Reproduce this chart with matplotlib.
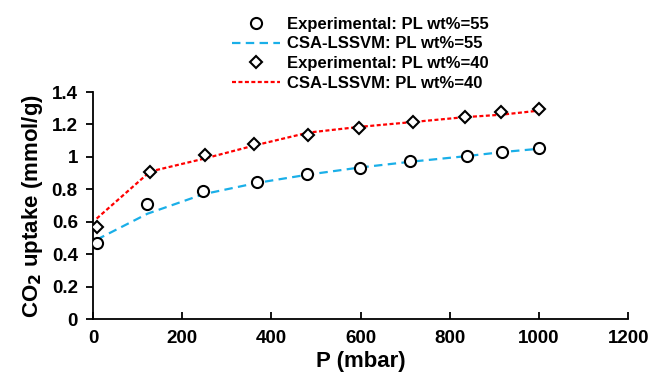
import matplotlib
matplotlib.use("Agg")
import matplotlib.pyplot as plt

plt.rcParams['font.family'] = ['Liberation Sans', 'DejaVu Sans']
plt.rcParams['font.weight'] = 'bold'
plt.rcParams['mathtext.default'] = 'bf'

p_exp55 = [8, 122, 247, 368, 480, 599, 711, 838, 918, 999]
q_exp55 = [0.471, 0.708, 0.790, 0.846, 0.893, 0.932, 0.973, 1.006, 1.033, 1.054]
q_mod55 = [0.49, 0.65, 0.77, 0.84, 0.89, 0.935, 0.97, 1.005, 1.03, 1.05]

p_exp40 = [8, 128, 250, 361, 483, 597, 717, 833, 915, 999]
q_exp40 = [0.568, 0.907, 1.012, 1.078, 1.136, 1.177, 1.216, 1.249, 1.274, 1.294]
q_mod40 = [0.62, 0.91, 0.99, 1.07, 1.15, 1.185, 1.215, 1.245, 1.26, 1.285]

xticks = [0, 200, 400, 600, 800, 1000, 1200]
yticks = [0, 0.2, 0.4, 0.6, 0.8, 1.0, 1.2, 1.4]
ytick_labels = ['0', '0.2', '0.4', '0.6', '0.8', '1', '1.2', '1.4']

fig = plt.figure(figsize=(6.51, 3.85), dpi=100)
ax = fig.add_axes([0.143, 0.171, 0.822, 0.590])

h1, = ax.plot(p_exp55, q_exp55, linestyle='none', marker='o', markersize=8,
              markerfacecolor='white', markeredgecolor='black', markeredgewidth=1.5,
              label='Experimental: PL wt%=55', zorder=3)
h2, = ax.plot(p_exp55, q_mod55, color='#1AAFE8', linewidth=1.6, dashes=(3.8, 2.4),
              label='CSA-LSSVM: PL wt%=55', zorder=2)
h3, = ax.plot(p_exp40, q_exp40, linestyle='none', marker='D', markersize=6,
              markerfacecolor='white', markeredgecolor='black', markeredgewidth=1.5,
              label='Experimental: PL wt%=40', zorder=3)
h4, = ax.plot(p_exp40, q_mod40, color='#FF0000', linewidth=1.6, dashes=(1.8, 1.1),
              label='CSA-LSSVM: PL wt%=40', zorder=2)

ax.set_xlim(0, 1200)
ax.set_ylim(0, 1.4)
ax.set_xticks(xticks)
ax.set_yticks(yticks)
ax.set_yticklabels(ytick_labels)
ax.spines['top'].set_visible(False)
ax.spines['right'].set_visible(False)
for s in ['left', 'bottom']:
    ax.spines[s].set_linewidth(1.3)
ax.tick_params(axis='x', direction='in', length=5, width=1.3, labelsize=13.5, pad=8)
ax.tick_params(axis='y', direction='out', length=5, width=1.3, labelsize=13.5, pad=6)
for lab in ax.get_xticklabels() + ax.get_yticklabels():
    lab.set_fontweight('bold')

ax.set_xlabel('P (mbar)', fontsize=16, fontweight='bold', labelpad=3)
ax.set_ylabel('CO$_2$ uptake (mmol/g)', fontsize=16, fontweight='bold', labelpad=5)

fig.legend(handles=[h1, h2, h3, h4], loc='upper left', bbox_to_anchor=(0.356, 0.957),
           frameon=False, handlelength=2.9, handletextpad=0.4,
           labelspacing=0.29, borderpad=0, borderaxespad=0,
           prop={'weight': 'bold', 'size': 12})

fig.savefig('out.png', dpi=100)
